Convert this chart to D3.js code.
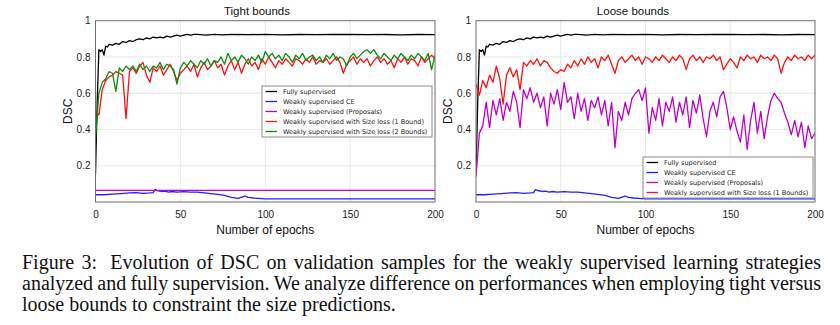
<!DOCTYPE html>
<html>
<head>
    <meta charset="utf-8">
    <title>DSC - tight / loose bounds</title>
    <script src="https://cdn.jsdelivr.net/npm/d3@7"></script>
    <style>
        body { margin: 0; background: #fff; }
        svg { display: block; }
    </style>
</head>
<body>
<div id="chart"></div>
<script type="text/javascript">
    // ---- data ----
    var xTicks = [0, 50, 100, 150, 200];
    var yTicks = [0.2, 0.4, 0.6, 0.8, 1];
    var yTickLabels = ["0.2", "0.4", "0.6", "0.8", "1"];

    // fully supervised (same run in both panels)
    var fullEpochs = [0, 1, 2, 3, 4, 5, 6, 7, 8, 10, 12, 14, 16, 18, 20, 22, 24, 26, 28, 30, 32, 34, 36, 38, 40,
        42, 44, 46, 48, 50, 52, 54, 56, 58, 60, 65, 70, 75, 80, 90, 100, 110, 120, 130, 140, 150, 160, 170, 180, 190, 200];
    var fullValues = [0.15, 0.55, 0.84, 0.83, 0.84, 0.81, 0.86, 0.855, 0.87, 0.865, 0.875, 0.87, 0.885, 0.88, 0.89,
        0.885, 0.895, 0.9, 0.895, 0.905, 0.9, 0.91, 0.905, 0.91, 0.905, 0.915, 0.91, 0.915, 0.92, 0.915, 0.92, 0.925,
        0.92, 0.925, 0.925, 0.92, 0.925, 0.922, 0.925, 0.923, 0.925, 0.922, 0.924, 0.923, 0.925, 0.924, 0.923, 0.924,
        0.922, 0.924, 0.923];

    // weakly supervised CE (same in both panels)
    var ceEpochs = [0, 5, 10, 15, 20, 24, 28, 32, 34, 35, 37, 39, 41, 43, 45, 48, 52, 56, 60, 64, 68, 72, 76, 80,
        84, 88, 90, 93, 96, 100, 200];
    var ceValues = [0.04, 0.04, 0.043, 0.046, 0.05, 0.052, 0.048, 0.05, 0.052, 0.068, 0.062, 0.058, 0.06, 0.055,
        0.058, 0.054, 0.057, 0.055, 0.054, 0.05, 0.046, 0.042, 0.036, 0.025, 0.02, 0.033, 0.025, 0.022, 0.02, 0.017, 0.017];

    // weakly supervised (proposals), tight panel: flat
    var proposalsTightEpochs = [0, 200];
    var proposalsTightValues = [0.064, 0.064];

    // noisy runs, read every second epoch
    var noisyEpochs = d3.range(0, 201, 2);

    var sizeLoss1Tight = [0.5, 0.48, 0.62, 0.67, 0.69, 0.7, 0.72, 0.71, 0.7, 0.46, 0.72, 0.74, 0.71, 0.75, 0.77, 0.7,
        0.66, 0.74, 0.72, 0.75, 0.7, 0.73, 0.76, 0.72, 0.67, 0.71, 0.73, 0.75, 0.72, 0.76, 0.69, 0.74, 0.77, 0.73,
        0.75, 0.78, 0.74, 0.76, 0.7, 0.75, 0.78, 0.73, 0.77, 0.71, 0.76, 0.79, 0.75, 0.77, 0.73, 0.79, 0.76, 0.8,
        0.77, 0.74, 0.78, 0.76, 0.79, 0.77, 0.75, 0.79, 0.78, 0.76, 0.79, 0.77, 0.8, 0.76, 0.78, 0.77, 0.79, 0.76,
        0.78, 0.8, 0.77, 0.71, 0.76, 0.78, 0.8, 0.76, 0.79, 0.77, 0.79, 0.75, 0.78, 0.8, 0.77, 0.79, 0.76, 0.78,
        0.74, 0.79, 0.77, 0.8, 0.76, 0.79, 0.78, 0.75, 0.8, 0.77, 0.79, 0.81, 0.79];

    var sizeLoss2Tight = [0.35, 0.6, 0.66, 0.68, 0.72, 0.71, 0.61, 0.74, 0.72, 0.75, 0.73, 0.75, 0.72, 0.76, 0.73,
        0.75, 0.72, 0.75, 0.74, 0.77, 0.73, 0.76, 0.75, 0.73, 0.65, 0.74, 0.77, 0.75, 0.78, 0.76, 0.74, 0.78, 0.76,
        0.79, 0.75, 0.78, 0.77, 0.8, 0.76, 0.82, 0.78, 0.8, 0.77, 0.81, 0.79, 0.76, 0.8, 0.78, 0.81, 0.77, 0.83,
        0.8, 0.82, 0.79, 0.81, 0.78, 0.82, 0.8, 0.77, 0.81, 0.79, 0.82, 0.78, 0.8, 0.81, 0.78, 0.8, 0.77, 0.81,
        0.79, 0.82, 0.78, 0.8, 0.79, 0.75, 0.8, 0.82, 0.79, 0.81, 0.83, 0.84, 0.82, 0.84, 0.81, 0.79, 0.82, 0.8,
        0.78, 0.81, 0.79, 0.82, 0.8, 0.78, 0.81, 0.79, 0.82, 0.8, 0.78, 0.82, 0.73, 0.81];

    var sizeLoss1Loose = [0.65, 0.59, 0.67, 0.63, 0.7, 0.66, 0.75, 0.68, 0.54, 0.7, 0.74, 0.69, 0.73, 0.62, 0.77,
        0.75, 0.78, 0.76, 0.79, 0.75, 0.78, 0.77, 0.74, 0.72, 0.71, 0.73, 0.72, 0.76, 0.74, 0.78, 0.75, 0.79, 0.76,
        0.8, 0.77, 0.79, 0.74, 0.8, 0.78, 0.81, 0.76, 0.71, 0.78, 0.8, 0.77, 0.79, 0.81, 0.78, 0.8, 0.76, 0.8, 0.79,
        0.77, 0.8, 0.78, 0.81, 0.79, 0.77, 0.8, 0.78, 0.81, 0.79, 0.73, 0.79, 0.81, 0.78, 0.8, 0.77, 0.8, 0.79,
        0.81, 0.78, 0.8, 0.73, 0.76, 0.79, 0.77, 0.74, 0.8, 0.78, 0.81, 0.79, 0.8, 0.77, 0.81, 0.79, 0.8, 0.78,
        0.81, 0.79, 0.71, 0.77, 0.8, 0.78, 0.81, 0.79, 0.8, 0.78, 0.81, 0.79, 0.81];

    var proposalsLoose = [0.14, 0.38, 0.42, 0.55, 0.41, 0.56, 0.48, 0.57, 0.45, 0.55, 0.5, 0.61, 0.55, 0.41, 0.62,
        0.57, 0.63, 0.55, 0.6, 0.52, 0.58, 0.42, 0.6, 0.54, 0.62, 0.51, 0.66, 0.55, 0.58, 0.46, 0.6, 0.5, 0.57,
        0.45, 0.56, 0.52, 0.58, 0.48, 0.56, 0.42, 0.55, 0.3, 0.5, 0.45, 0.55, 0.48, 0.57, 0.6, 0.62, 0.56, 0.63,
        0.38, 0.52, 0.45, 0.57, 0.42, 0.55, 0.5, 0.58, 0.44, 0.55, 0.48, 0.58, 0.41, 0.56, 0.49, 0.59, 0.46, 0.36,
        0.5, 0.55, 0.47, 0.58, 0.61, 0.52, 0.4, 0.47, 0.39, 0.33, 0.48, 0.29, 0.45, 0.55, 0.38, 0.5, 0.35, 0.47,
        0.56, 0.6, 0.57, 0.55, 0.49, 0.44, 0.37, 0.45, 0.36, 0.44, 0.3, 0.42, 0.35, 0.38];

    var legendTight = ["Fully supervised", "Weakly supervised CE", "Weakly supervised (Proposals)",
        "Weakly supervised with Size loss (1 Bound)", "Weakly supervised with Size loss (2 Bounds)"];
    var legendLoose = ["Fully supervised", "Weakly supervised CE", "Weakly supervised (Proposals)",
        "Weakly supervised with Size loss (1 Bounds)"];

    var captionLines = [
        "Figure 3:  Evolution of DSC on validation samples for the weakly supervised learning strategies",
        "analyzed and fully supervision. We analyze difference on performances when employing tight versus",
        "loose bounds to constraint the size predictions."
    ];

    // ---- layout ----
    var W = 840, H = 325;
    var COL = {black: "#000000", blue: "#1f1fff", magenta: "#c000c8", red: "#ff1010", green: "#108a10"};
    var plotTop = 20.7, plotBottom = 202;

    var panels = [
        {
            title: "Tight bounds", left: 95.5, right: 435, titleX: 257,
            series: [
                {x: fullEpochs, y: fullValues, c: COL.black},
                {x: ceEpochs, y: ceValues, c: COL.blue},
                {x: proposalsTightEpochs, y: proposalsTightValues, c: COL.magenta},
                {x: noisyEpochs, y: sizeLoss1Tight, c: COL.red},
                {x: noisyEpochs, y: sizeLoss2Tight, c: COL.green}
            ],
            legend: {labels: legendTight, x: 262, y: 86, w: 170}
        },
        {
            title: "Loose bounds", left: 476, right: 815, titleX: 633,
            series: [
                {x: fullEpochs, y: fullValues, c: COL.black},
                {x: ceEpochs, y: ceValues, c: COL.blue},
                {x: noisyEpochs, y: proposalsLoose, c: COL.magenta},
                {x: noisyEpochs, y: sizeLoss1Loose, c: COL.red}
            ],
            legend: {labels: legendLoose, x: 643, y: 157, w: 170}
        }
    ];

    var svg = d3.select("#chart").append("svg").attr("width", W).attr("height", H);
    var sans = "'Liberation Sans', Arial, sans-serif";

    var y = d3.scaleLinear().domain([0, 1]).range([plotBottom, plotTop]);

    panels.forEach(function (p, pi) {
        var x = d3.scaleLinear().domain([0, 200]).range([p.left, p.right]);
        var g = svg.append("g");

        g.append("clipPath").attr("id", "clip" + pi).append("rect")
            .attr("x", p.left).attr("y", plotTop).attr("width", p.right - p.left).attr("height", plotBottom - plotTop);

        // grid
        g.append("g").selectAll("line.vg").data(xTicks.slice(1, -1)).enter().append("line")
            .attr("x1", function (d) { return x(d); }).attr("x2", function (d) { return x(d); })
            .attr("y1", plotTop).attr("y2", plotBottom)
            .attr("stroke", "#e3e3e3").attr("stroke-width", 0.8);
        g.append("g").selectAll("line.hg").data(yTicks.slice(0, -1)).enter().append("line")
            .attr("x1", p.left).attr("x2", p.right)
            .attr("y1", function (d) { return y(d); }).attr("y2", function (d) { return y(d); })
            .attr("stroke", "#e3e3e3").attr("stroke-width", 0.8);

        // series
        var line = d3.line().x(function (d) { return x(d[0]); }).y(function (d) { return y(d[1]); });
        g.append("g").attr("clip-path", "url(#clip" + pi + ")").selectAll("path").data(p.series).enter()
            .append("path")
            .attr("d", function (s) { return line(d3.zip(s.x, s.y)); })
            .attr("fill", "none").attr("stroke", function (s) { return s.c; })
            .attr("stroke-width", 1.3).attr("stroke-linejoin", "round");

        // frame
        g.append("rect").attr("x", p.left).attr("y", plotTop)
            .attr("width", p.right - p.left).attr("height", plotBottom - plotTop)
            .attr("fill", "none").attr("stroke", "#6e6e6e").attr("stroke-width", 1);

        // axes, no tick marks
        var xa = g.append("g").attr("transform", "translate(0," + plotBottom + ")")
            .call(d3.axisBottom(x).tickValues(xTicks).tickSize(0).tickPadding(9).tickFormat(d3.format("d")));
        var ya = g.append("g").attr("transform", "translate(" + p.left + ",0)")
            .call(d3.axisLeft(y).tickValues(yTicks).tickSize(0).tickPadding(5)
                .tickFormat(function (d, i) { return yTickLabels[i]; }));
        [xa, ya].forEach(function (a) {
            a.select(".domain").remove();
            a.selectAll("text").attr("font-family", sans).attr("font-size", "10px").attr("fill", "#222");
        });

        // titles
        g.append("text").attr("x", p.titleX).attr("y", 15).attr("text-anchor", "middle")
            .attr("font-family", sans).attr("font-size", "11.5px").attr("fill", "#111").text(p.title);
        g.append("text").attr("x", (p.left + p.right) / 2).attr("y", 234).attr("text-anchor", "middle")
            .attr("font-family", sans).attr("font-size", "12px").attr("fill", "#111").text("Number of epochs");
        g.append("text").attr("transform", "translate(" + (p.left - 24) + "," + ((plotTop + plotBottom) / 2) + ") rotate(-90)")
            .attr("text-anchor", "middle").attr("font-family", sans).attr("font-size", "12px").attr("fill", "#111")
            .text("DSC");

        // legend
        var L = p.legend, lh = 10, lg = g.append("g").attr("transform", "translate(" + L.x + "," + L.y + ")");
        lg.append("rect").attr("width", L.w).attr("height", L.labels.length * lh + 1)
            .attr("fill", "#fff").attr("stroke", "#8c8c8c").attr("stroke-width", 1);
        var row = lg.selectAll("g.row").data(L.labels).enter().append("g")
            .attr("transform", function (d, i) { return "translate(0," + (5.5 + i * lh) + ")"; });
        row.append("line").attr("x1", 3.5).attr("x2", 15).attr("y1", 0).attr("y2", 0)
            .attr("stroke", function (d, i) { return p.series[i].c; }).attr("stroke-width", 1.3);
        row.append("text").attr("x", 21).attr("y", 0).attr("dy", "0.35em")
            .attr("font-family", "'DejaVu Sans', sans-serif").attr("font-size", "6.5px").attr("fill", "#222")
            .text(function (d) { return d; });
    });

    // caption, justified like the paper
    var capX0 = 22, capX1 = 821, capFont = "'Liberation Serif', 'Times New Roman', serif";
    captionLines.forEach(function (txt, li) {
        var t = svg.append("text").attr("y", 269 + li * 21)
            .attr("font-family", capFont).attr("font-size", "20px").attr("fill", "#111");
        var words = txt.split(/ +/);
        var spans = words.map(function (w) { return t.append("tspan").text(w); });
        var widths = spans.map(function (s) { return s.node().getComputedTextLength(); });
        var sum = d3.sum(widths);
        var last = li === captionLines.length - 1;
        var gap = last ? 5 : (capX1 - capX0 - sum - (li === 0 ? 6 : 0)) / (words.length - 1);
        var xx = capX0;
        spans.forEach(function (s, i) {
            s.attr("x", xx);
            // LaTeX puts a wider gap after the "Figure 3:" label
            xx += widths[i] + gap + (li === 0 && i === 1 ? 6 : 0);
        });
    });
</script>
</body>
</html>
